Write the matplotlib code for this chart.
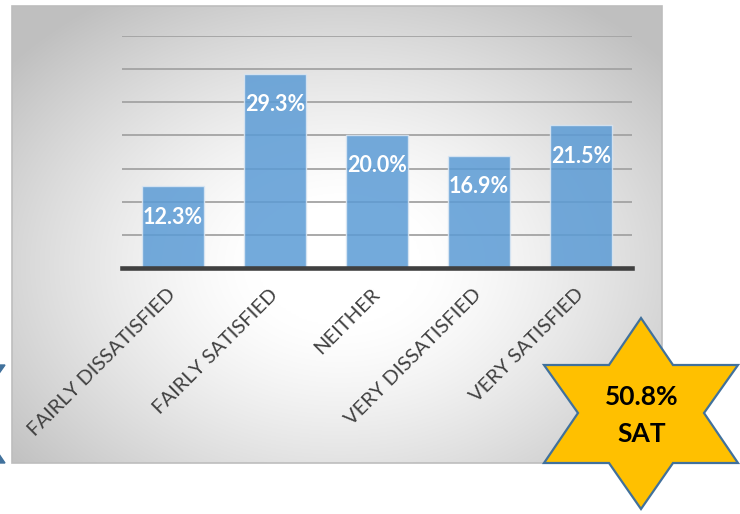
import numpy as np
import matplotlib.pyplot as plt
from matplotlib.patches import Polygon, Rectangle

plt.rcParams['font.family'] = ['Lato', 'DejaVu Sans']

categories = ['FAIRLY DISSATISFIED', 'FAIRLY SATISFIED', 'NEITHER',
              'VERY DISSATISFIED', 'VERY SATISFIED']
values = [12.3, 29.3, 20.0, 16.9, 21.5]
sat_total = values[1] + values[4]

W, H = 740, 514
fig = plt.figure(figsize=(W / 100, H / 100), dpi=100)

# background layer in pixel coordinates: gradient panel
bg = fig.add_axes([0, 0, 1, 1], zorder=0)
bg.axis('off')

px0, px1, py0, py1 = 12, 662, 6, 463
xx, yy = np.meshgrid(np.linspace(px0, px1, 400), np.linspace(py0, py1, 300))
cx, cy = 340, 265
d = np.sqrt(((xx - cx) / 330) ** 2 + ((yy - cy) / 245) ** 2)
shade = 1.0 - 0.25 * np.clip((d - 0.25) / 1.05, 0, 1) ** 1.3
img = np.dstack([shade, shade, shade])
bg.imshow(img, extent=(px0, px1, py1, py0), aspect='auto', interpolation='bilinear')
bg.add_patch(Rectangle((px0, py0), px1 - px0, py1 - py0, fill=False,
                       edgecolor='#bdbdbd', lw=1.2))
bg.set_xlim(0, W)
bg.set_ylim(H, 0)

# bar chart
ax = fig.add_axes([122 / W, 1 - 268 / H, 510 / W, 232 / H], zorder=1)
ax.patch.set_alpha(0)
x = np.arange(len(categories))
bars = ax.bar(x, values, width=0.6, color='#5B9BD5', alpha=0.85,
              edgecolor='#dbe7f3', linewidth=1.0, zorder=2)
ax.set_xlim(-0.5, len(categories) - 0.5)
ax.set_ylim(0, 35)
ax.set_yticks(np.arange(5, 36, 5))
ax.yaxis.grid(True, color='#a3a3a3', lw=1.3, zorder=1)
ax.set_axisbelow(True)
ax.tick_params(axis='y', left=False, labelleft=False)
ax.tick_params(axis='x', length=0, pad=17)
ax.set_xticks(x)
ax.set_xticklabels(categories, rotation=45, ha='right', va='center',
                   rotation_mode='anchor', fontsize=14.5, color='#404040')
for s in ['top', 'right', 'left']:
    ax.spines[s].set_visible(False)
ax.spines['bottom'].set_color('#404040')
ax.spines['bottom'].set_linewidth(3.3)
ax.spines['bottom'].set_zorder(3)

for b, v in zip(bars, values):
    ax.annotate(f'{v:.1f}%', (b.get_x() + b.get_width() / 2, v),
                xytext=(0, -22), textcoords='offset points',
                ha='center', va='center', color='white',
                fontsize=15.5, fontweight='bold', zorder=4)

# foreground layer: star badges
fg = fig.add_axes([0, 0, 1, 1], zorder=2)
fg.patch.set_alpha(0)
fg.set_xlim(0, W)
fg.set_ylim(H, 0)
fg.axis('off')

star = np.array([
    (641, 318), (673, 365), (738, 365), (704, 413), (738, 463), (673, 463),
    (641, 509), (609, 463), (544, 463), (578, 413), (544, 365), (609, 365),
])
fg.add_patch(Polygon(star, closed=True, facecolor='#FFC000',
                     edgecolor='#41719C', lw=1.6, joinstyle='miter'))
fg.add_patch(Polygon(star - np.array([733, 0]), closed=True,
                     facecolor='#41719C', edgecolor='#41719C', lw=1.0))
fg.text(642, 397, f'{sat_total:.1f}%', ha='center', va='center',
        fontsize=19, fontweight='bold', color='black')
fg.text(642, 434, 'SAT', ha='center', va='center',
        fontsize=19, fontweight='bold', color='black')

fig.savefig('out.png', dpi=100)
